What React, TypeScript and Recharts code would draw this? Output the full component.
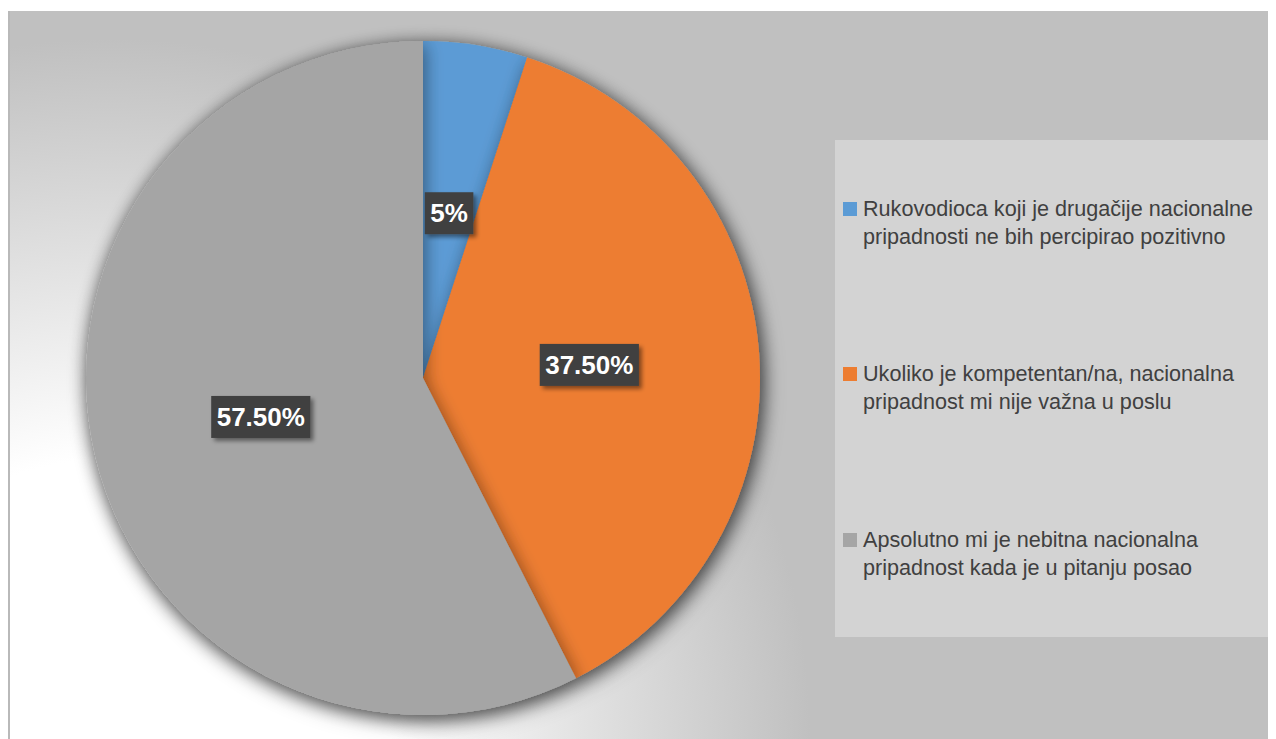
import React from "react";
import { PieChart, Pie, Cell, Legend } from "recharts";

// survey answers, in the order they are drawn (clockwise from 12 o'clock)
const categories = [
  "Rukovodioca koji je drugačije nacionalne pripadnosti ne bih percipirao pozitivno",
  "Ukoliko je kompetentan/na, nacionalna pripadnost mi nije važna u poslu",
  "Apsolutno mi je nebitna nacionalna pripadnost kada je u pitanju posao",
];
const shares = [5, 37.5, 57.5];
const shareLabels = ["5%", "37.50%", "57.50%"];
const colors = ["#5b9bd5", "#ed7d31", "#a5a5a5"];

const pieData = categories.map((name, i) => ({ name, value: shares[i], pct: shareLabels[i] }));

const RAD = Math.PI / 180;
const charW: Record<string, number> = { "%": 0.889, ".": 0.278 };

const renderLabel = (props: any) => {
  const { cx, cy, midAngle, outerRadius, index } = props;
  const text: string = props.pct ?? props.payload?.pct ?? shareLabels[index];
  const r = outerRadius * 0.495;
  const x = cx + r * Math.cos(-midAngle * RAD);
  const y = cy + r * Math.sin(-midAngle * RAD);
  const fs = 26;
  const w = text.split("").reduce((s, c) => s + (charW[c] ?? 0.556), 0) * fs + 11;
  const h = 42;
  return (
    <g>
      <rect x={x - w / 2} y={y - h / 2} width={w} height={h} fill="#404040" filter="url(#lblShadow)" />
      <text
        x={x}
        y={y}
        fill="#ffffff"
        fontSize={fs}
        fontWeight="bold"
        fontFamily="'Liberation Sans', Arial, sans-serif"
        textAnchor="middle"
        dominantBaseline="central"
      >
        {text}
      </text>
    </g>
  );
};

const renderLegend = (props: any) => {
  const fromChart: any[] = props.payload ?? [];
  // keep the legend in slice order, whatever order recharts hands it over
  const items = categories.map((c, i) => {
    const hit = fromChart.find((p) => p.value === c);
    return { value: c, color: hit?.color ?? colors[i] };
  });
  return (
    <div
      style={{
        width: 435,
        height: 497,
        background: "#d3d3d3",
        display: "flex",
        flexDirection: "column",
        justifyContent: "space-around",
        fontFamily: "'Liberation Sans', Arial, sans-serif",
        fontSize: 21.6,
        lineHeight: "28px",
        color: "#404040",
      }}
    >
      {items.map((it, i) => (
        <div key={i} style={{ position: "relative", paddingLeft: 28, width: 400 }}>
          <span
            style={{
              position: "absolute",
              left: 8,
              top: 7,
              width: 14,
              height: 14,
              background: it.color,
            }}
          />
          {it.value}
        </div>
      ))}
    </div>
  );
};

export default function App() {
  return (
    <div
      style={{
        marginTop: 3,
        width: 1268,
        height: 728,
        boxSizing: "border-box",
        borderLeft: "2px solid #b9b9b9",
        background: "radial-gradient(circle at 100px 728px, #ffffff 0px, #ffffff 280px, #c0c0c0 700px)",
        position: "relative",
      }}
    >
      <svg width={0} height={0} style={{ position: "absolute" }}>
        <defs>
          <filter id="pieShadow" x="-15%" y="-15%" width="130%" height="130%">
            <feGaussianBlur in="SourceAlpha" stdDeviation="9" />
            <feOffset dx="2" dy="4" result="blur" />
            <feComponentTransfer>
              <feFuncA type="linear" slope="0.45" />
            </feComponentTransfer>
            <feMerge>
              <feMergeNode />
              <feMergeNode in="SourceGraphic" />
            </feMerge>
          </filter>
          <filter id="lblShadow" x="-20%" y="-30%" width="150%" height="170%">
            <feDropShadow dx="3" dy="3" stdDeviation="2" floodColor="#000" floodOpacity="0.45" />
          </filter>
        </defs>
      </svg>
      <style>{`.pie-main { filter: url(#pieShadow); }`}</style>
      <PieChart width={1266} height={728} margin={{ top: 0, right: 0, bottom: 0, left: 0 }}>
        <Pie
          className="pie-main"
          data={pieData}
          dataKey="value"
          nameKey="name"
          cx={413}
          cy={367}
          outerRadius={337}
          startAngle={90}
          endAngle={-270}
          stroke="none"
          label={renderLabel}
          labelLine={false}
          isAnimationActive={false}
        >
          {pieData.map((_, i) => (
            <Cell key={i} fill={colors[i]} stroke="none" />
          ))}
        </Pie>
        <Legend
          layout="vertical"
          align="right"
          verticalAlign="top"
          content={renderLegend}
          wrapperStyle={{ left: 825, top: 129, width: 435, height: 497 }}
        />
      </PieChart>
    </div>
  );
}
